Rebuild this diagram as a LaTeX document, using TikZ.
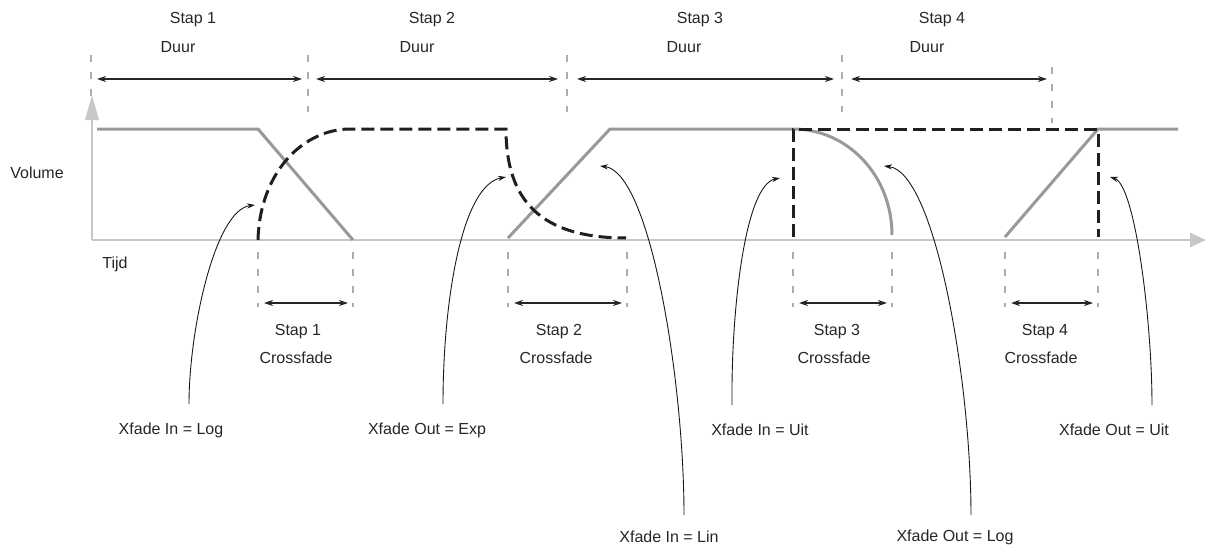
\documentclass[tikz,border=0pt]{standalone}
\usepackage{fontspec}
\setmainfont{Liberation Sans}
\usetikzlibrary{arrows.meta}

\tikzset{
  lbl/.style = {font=\fontsize{8}{9.6}\selectfont, text=black!85, inner sep=0pt},
  axisline/.style = {draw=black!22, line width=1.2pt},
  guide/.style = {draw=black!32, line width=0.7pt, dash pattern=on 3.5pt off 5pt},
  span/.style = {{Stealth[length=4.5pt,width=3pt]}-{Stealth[length=4.5pt,width=3pt]}, line width=0.6pt, black!85},
  leader/.style = {-{Stealth[length=4pt,width=2.6pt]}, line width=0.45pt, black!90},
  fadegray/.style = {draw=black!40, line width=1.5pt},
  fadedash/.style = {draw=black!88, line width=1.5pt, dash pattern=on 6.5pt off 3pt}
}

\begin{document}
\begin{tikzpicture}[x=0.5pt, y=-0.5pt]
    \useasboundingbox (0,0) rectangle (1207,546);

    \foreach \i/\sx/\dx in {1/193/178, 2/432/417, 3/700/684, 4/942/927}{
        \node[lbl] (stap\i) at (\sx,20) {Stap \i};
        \node[lbl] (duur\i) at (\dx,47) {Duur};
    }

    \foreach \n/\x/\t/\b in {0/91/55/97, 1/308/55/112, 2/567/55/112, 3/842/55/112, 4/1052/67/123}{
        \coordinate (gtop\n) at (\x,\t);
        \coordinate (gbot\n) at (\x,\b);
        \draw[guide] (gtop\n) -- (gbot\n);
    }

    \foreach \i/\a/\b in {1/97/302, 2/316/558, 3/577/834, 4/851/1047}{
        \coordinate (dl\i) at (\a,79);
        \coordinate (dr\i) at (\b,79);
        \draw[span] (dl\i) -- (dr\i);
    }

    \node[lbl] (volume) at (37,173) {Volume};
    \node[lbl] (tijd) at (115,264) {Tijd};

    \coordinate (origin) at (92,240);
    \coordinate (ytip) at (92,95);
    \coordinate (xtip) at (1206,240);
    \draw[axisline, -{Triangle[length=12.5pt,width=6.7pt]}] (origin) -- (ytip);
    \draw[axisline, -{Triangle[length=8pt,width=7pt]}] (origin) -- (xtip);

    \draw[fadegray] (97,129) -- (258,129) -- (353,240);
    \draw[fadegray] (508,238) -- (610,129) -- (793,129)
        .. controls (848,129) and (892,176) .. (892,235);
    \draw[fadegray] (1005,237) -- (1098,129) -- (1178,129);

    \draw[fadedash] (258,240) .. controls (260,170) and (305,129) .. (350,129)
        -- (506,129) .. controls (506,200) and (540,238) .. (626,238);
    \draw[fadedash] (793,237) -- (793,129) -- (1098,129) -- (1098,237);

    \foreach \i/\l/\r/\sx/\cx in {1/258/353/298/296, 2/508/627/559/556, 3/793/892/837/834, 4/1005/1098/1045/1041}{
        \coordinate (xl\i) at (\l,252);
        \coordinate (xr\i) at (\r,252);
        \draw[guide] (xl\i) -- +(0,55);
        \draw[guide] (xr\i) -- +(0,55);
        \coordinate (al\i) at (\l+6,303);
        \coordinate (ar\i) at (\r-5,303);
        \draw[span] (al\i) -- (ar\i);
        \node[lbl] (xstap\i) at (\sx,332) {Stap \i};
        \node[lbl] (xfade\i) at (\cx,358) {Crossfade};
    }

    \node[lbl] (inlog) at (171,430) {Xfade In = Log};
    \node[lbl] (outexp) at (427,430) {Xfade Out = Exp};
    \node[lbl] (inlin) at (669,537) {Xfade In = Lin};
    \node[lbl] (inuit) at (760,430) {Xfade In = Uit};
    \node[lbl] (outlog) at (955,537) {Xfade Out = Log};
    \node[lbl] (outuit) at (1114,430) {Xfade Out = Uit};

    \coordinate (inlogfoot) at (189,404);   \coordinate (inlogtip) at (255,205);
    \coordinate (outexpfoot) at (443,404);  \coordinate (outexptip) at (506,177);
    \coordinate (inlinfoot) at (684,515);   \coordinate (inlintip) at (600,166);
    \coordinate (inuitfoot) at (732,405);   \coordinate (inuittip) at (780,178);
    \coordinate (outlogfoot) at (971,515);  \coordinate (outlogtip) at (884,166);
    \coordinate (outuitfoot) at (1152,405); \coordinate (outuittip) at (1110,177);

    \draw[leader] (inlogfoot) .. controls (189,330) and (215,210) .. (inlogtip);
    \draw[leader] (outexpfoot) .. controls (443,300) and (462,185) .. (outexptip);
    \draw[leader] (inlinfoot) .. controls (684,380) and (650,172) .. (inlintip);
    \draw[leader] (inuitfoot) .. controls (731,310) and (745,185) .. (inuittip);
    \draw[leader] (outlogfoot) .. controls (971,380) and (935,172) .. (outlogtip);
    \draw[leader] (outuitfoot) .. controls (1152,320) and (1135,185) .. (outuittip);
\end{tikzpicture}
\end{document}
